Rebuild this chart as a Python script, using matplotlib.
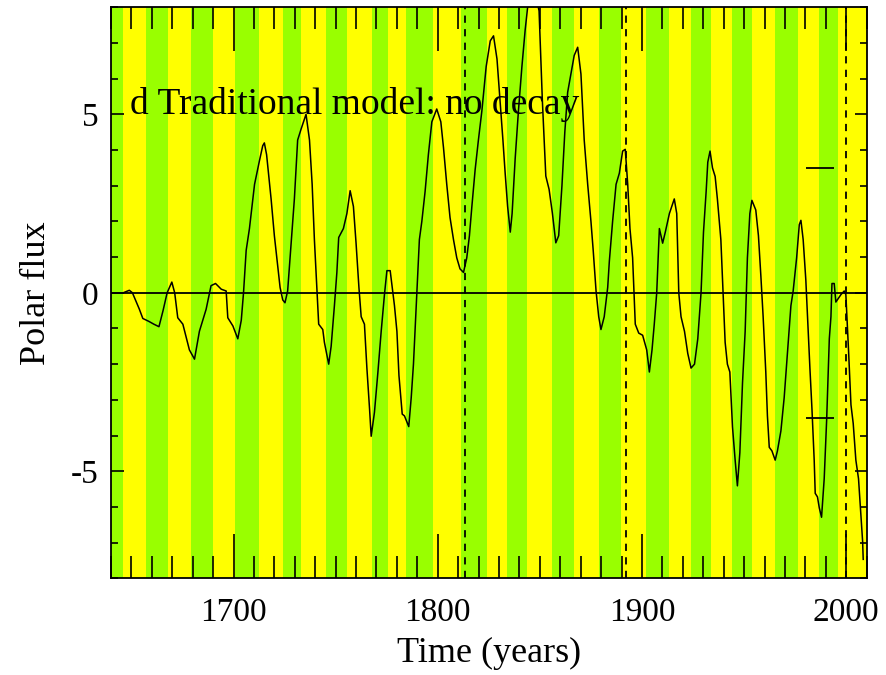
import matplotlib
matplotlib.use('Agg')
import matplotlib.pyplot as plt
from matplotlib.ticker import MultipleLocator
import numpy as np

# cycle minima used as the stripe edges (first stripe is green)
cycle_edges = [1640.0, 1645.9, 1657.3, 1667.9, 1679.3, 1689.9, 1700.5, 1712.7,
               1724.1, 1733.1, 1745.3, 1755.6, 1767.6, 1775.5, 1784.4, 1797.9,
               1811.3, 1824.3, 1834.1, 1843.9, 1856.1, 1866.7, 1879.0, 1889.6,
               1901.8, 1913.2, 1923.8, 1933.6, 1944.2, 1954.0, 1964.9, 1976.3,
               1986.6, 1996.0, 2010.0]

# model polar flux
years = [1646.0, 1649.0, 1650.5, 1653.9, 1655.6, 1658.5, 1661.0, 1663.5, 1665.5,
         1667.5, 1669.8, 1671.2, 1672.7, 1675.2, 1678.4, 1680.9, 1683.3, 1686.6,
         1689.0, 1691.2, 1694.0, 1696.4, 1697.2, 1699.7, 1702.1, 1703.8, 1704.9,
         1706.2, 1707.8, 1710.3, 1712.7, 1714.3, 1715.1, 1716.2, 1718.4, 1720.0,
         1721.6, 1722.8, 1724.1, 1725.2, 1726.5, 1728.2, 1729.8, 1731.4, 1733.1,
         1735.5, 1737.2, 1738.5, 1739.6, 1740.8, 1741.7, 1743.7, 1744.5, 1746.6,
         1747.8, 1749.4, 1750.6, 1751.5, 1753.8, 1755.5, 1757.1, 1758.7, 1760.0,
         1761.4, 1762.5, 1764.1, 1765.3, 1766.6, 1767.4, 1769.0, 1770.7, 1772.3,
         1773.9, 1775.1, 1776.7, 1778.0, 1778.8, 1780.0, 1781.0, 1782.6, 1783.7,
         1785.8, 1787.0, 1788.1, 1789.7, 1791.0, 1792.2, 1793.8, 1795.4, 1797.1,
         1799.5, 1801.5, 1802.8, 1804.4, 1806.0, 1807.7, 1809.3, 1810.9, 1812.6,
         1814.2, 1815.5, 1816.7, 1818.3, 1819.9, 1821.6, 1823.7, 1825.7, 1827.3,
         1829.0, 1830.2, 1831.9, 1833.0, 1834.2, 1835.5, 1836.4, 1837.9, 1839.5,
         1841.2, 1842.8, 1844.0, 1846.3, 1848.5, 1849.6, 1851.2, 1852.9, 1854.5,
         1856.1, 1857.8, 1859.2, 1860.8, 1862.2, 1863.6, 1865.2, 1866.8,
         1868.5, 1870.1, 1871.7, 1873.4, 1875.0, 1876.1, 1877.5, 1878.8, 1879.9,
         1881.5, 1883.2, 1884.0, 1885.6, 1887.3, 1888.9, 1890.5, 1891.8, 1893.0,
         1894.1, 1895.4, 1896.7, 1898.4, 1900.3, 1902.3, 1903.6, 1904.9, 1906.0,
         1907.2, 1908.5, 1910.1, 1911.4, 1913.4, 1915.8, 1917.0, 1918.0, 1919.1,
         1920.8, 1922.4, 1924.0, 1925.7, 1927.3, 1928.9, 1930.1, 1931.4, 1932.2,
         1933.3, 1934.5, 1935.8, 1936.9, 1938.6, 1939.7, 1940.7, 1941.8, 1943.0,
         1944.3, 1945.6, 1946.7, 1947.9, 1949.2, 1950.5, 1951.6, 1952.8, 1953.8,
         1955.7, 1957.0, 1958.2, 1959.3, 1960.6, 1961.4, 1962.3, 1963.6, 1965.2,
         1966.3, 1968.0, 1969.6, 1971.2, 1972.9, 1974.0, 1975.7, 1977.0, 1977.8,
         1978.9, 1980.2, 1981.2, 1982.2, 1983.2, 1984.3, 1984.8, 1985.9, 1986.8,
         1987.9, 1989.2, 1990.4, 1991.7, 1992.5, 1993.0, 1994.1, 1994.9, 1996.2,
         1997.4, 1999.0, 1999.8, 2000.7, 2001.1, 2002.3, 2003.4, 2004.7, 2006.0,
         2007.2, 2008.0, 2008.3]
flux = [0.0, 0.07, 0.0, -0.46, -0.72, -0.80, -0.88, -0.95, -0.5,
        0.0, 0.3, 0.0, -0.7, -0.88, -1.6, -1.86, -1.08, -0.46,
        0.2, 0.26, 0.1, 0.05, -0.7, -0.93, -1.29, -0.77, 0.0,
        1.19, 1.8, 3.04, 3.7, 4.12, 4.2, 3.87, 2.63, 1.6,
        0.77, 0.15, -0.2, -0.28, 0.05, 1.39, 2.63, 4.28, 4.59,
        5.0, 4.28, 3.04, 1.49, 0.15, -0.88, -1.03, -1.39, -2.0,
        -1.5, -0.36, 0.57, 1.55, 1.8, 2.22, 2.86, 2.42, 1.39,
        0.15, -0.67, -0.88, -2.11, -3.25, -4.02, -3.35, -2.22, -1.08,
        -0.05, 0.62, 0.62, 0.0, -0.36, -1.08, -2.32, -3.4, -3.45,
        -3.75, -2.94, -2.0, -0.05, 1.49, 2.0, 2.84, 3.87, 4.79,
        5.15, 4.79, 4.07, 3.04, 2.11, 1.49, 0.98, 0.67, 0.57,
        0.98, 1.6, 2.42, 3.45, 4.28, 5.1, 6.34, 7.06, 7.2,
        6.55, 5.62, 4.28, 3.35, 2.42, 1.7, 2.22, 3.76, 5.1,
        6.34, 7.37, 8.0, 8.6, 8.2, 7.9, 5.4, 3.27, 2.9,
        2.24, 1.4, 1.6, 3.0, 4.5, 5.62, 6.13, 6.65,
        6.88, 6.13, 4.28, 3.04, 2.0, 1.19, 0.05, -0.67, -1.03,
        -0.67, 0.15, 0.88, 2.0, 3.04, 3.35, 3.97, 4.02, 3.04,
        1.8, 0.98, -0.88, -1.13, -1.19, -1.6, -2.22, -1.6, -0.88,
        0.0, 1.8, 1.39, 1.7, 2.22, 2.63, 2.22, 0.0, -0.67,
        -1.08, -1.7, -2.11, -2.0, -1.29, 0.0, 1.7, 2.84, 3.66,
        3.97, 3.5, 3.26, 2.63, 1.49, 0.0, -1.39, -2.0, -2.22,
        -3.76, -4.69, -5.41, -4.48, -2.53, -1.08, 0.98, 2.22, 2.59,
        2.32, 1.6, 0.46, -0.67, -2.22, -3.45, -4.33, -4.43, -4.69,
        -4.43, -3.87, -2.94, -1.7, -0.36, 0.05, 0.98, 1.91, 2.03,
        1.49, 0.36, -0.88, -2.11, -3.25, -4.69, -5.62, -5.72, -6.03,
        -6.29, -5.21, -3.56, -1.29, -0.67, 0.26, 0.26, -0.26, -0.15,
        -0.05, 0.05, -0.05, -1.08, -1.6, -3.14, -3.66, -4.69, -5.21,
        -6.24, -6.96, -7.47]

dashed_years = [1813.3, 1892.2, 1999.7]
obs_levels = [3.5, -3.5]
obs_span = [1980.3, 1994.2]

plt.rcParams['font.family'] = ['Liberation Serif', 'DejaVu Serif']
plt.rcParams['axes.unicode_minus'] = False

fig = plt.figure(figsize=(8.87, 6.75), dpi=100)
ax = fig.add_axes([0.1251, 0.1433, 0.8520, 0.8459])

colors = ['#99ff00', '#ffff00']
for i in range(len(cycle_edges) - 1):
    ax.axvspan(cycle_edges[i], cycle_edges[i + 1], color=colors[i % 2], lw=0, zorder=0)

ax.axhline(0, color='black', lw=1.3, zorder=2)
for yr in dashed_years:
    ax.axvline(yr, color='black', lw=1.3, ls=(0, (4, 3.5)), zorder=2)
ax.hlines(obs_levels, obs_span[0], obs_span[1], color='black', lw=1.3, zorder=3)

ax.plot(years, flux, color='black', lw=1.1, zorder=4)

ax.text(1649.1, 5.0, 'd Traditional model: no decay', fontsize=27, va='baseline', ha='left', zorder=5)

ax.set_xlim(1640, 2010)
ax.set_ylim(-8, 8)
ax.xaxis.set_major_locator(MultipleLocator(100))
ax.xaxis.set_minor_locator(MultipleLocator(10))
ax.yaxis.set_major_locator(MultipleLocator(5))
ax.yaxis.set_minor_locator(MultipleLocator(1))

ax.tick_params(axis='x', which='major', direction='in', length=32, width=1.2,
               top=True, bottom=True, labelsize=24, pad=14)
ax.tick_params(axis='x', which='minor', direction='in', length=16, width=1.2, top=True, bottom=True)
ax.tick_params(axis='y', which='major', direction='in', length=9, width=1.2,
               left=True, right=True, labelsize=24, pad=9)
ax.tick_params(axis='y', which='minor', direction='in', length=5, width=1.2, left=True, right=True)
for s in ax.spines.values():
    s.set_linewidth(1.3)

ax.set_xlabel('Time (years)', fontsize=26, labelpad=6)
ax.set_ylabel('Polar flux', fontsize=26, labelpad=13)

fig.savefig('out.png', dpi=100)
